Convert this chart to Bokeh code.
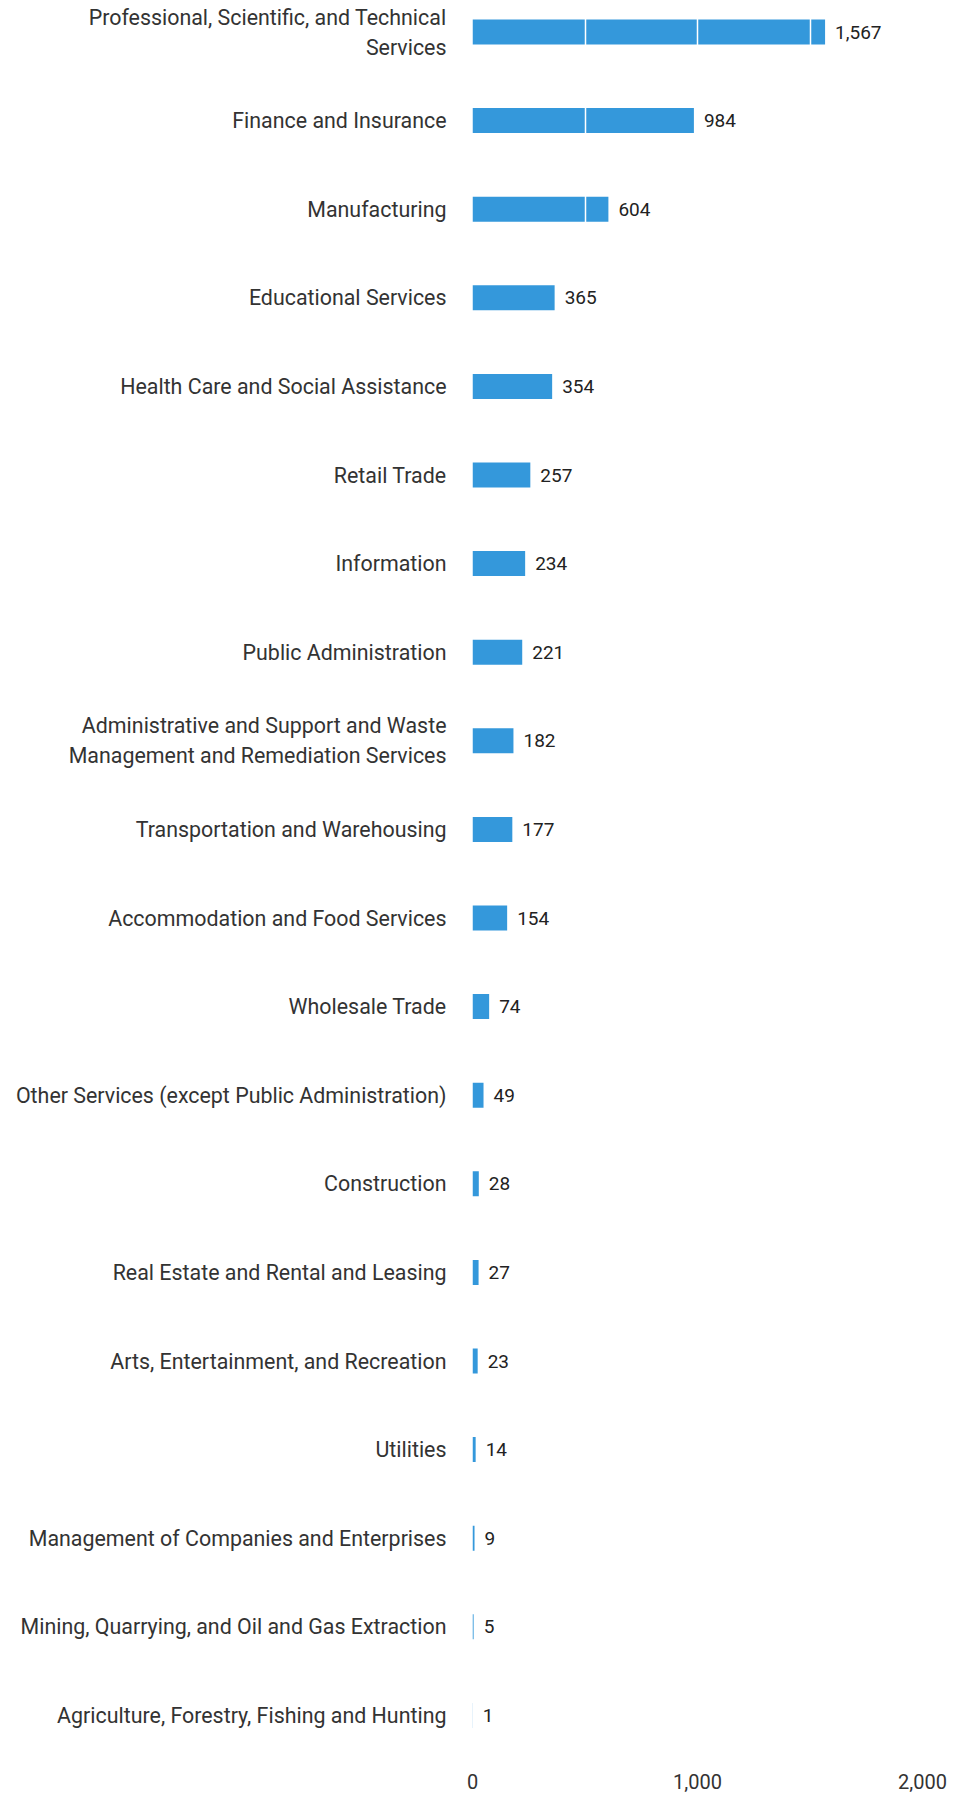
from bokeh.plotting import figure
from bokeh.models import ColumnDataSource, FixedTicker, Range1d
from bokeh.embed import file_html
from bokeh.resources import INLINE
from bokeh.core.properties import value

industries = [
    "Professional, Scientific, and Technical\nServices",
    "Finance and Insurance",
    "Manufacturing",
    "Educational Services",
    "Health Care and Social Assistance",
    "Retail Trade",
    "Information",
    "Public Administration",
    "Administrative and Support and Waste\nManagement and Remediation Services",
    "Transportation and Warehousing",
    "Accommodation and Food Services",
    "Wholesale Trade",
    "Other Services (except Public Administration)",
    "Construction",
    "Real Estate and Rental and Leasing",
    "Arts, Entertainment, and Recreation",
    "Utilities",
    "Management of Companies and Enterprises",
    "Mining, Quarrying, and Oil and Gas Extraction",
    "Agriculture, Forestry, Fishing and Hunting",
]
counts = [1567, 984, 604, 365, 354, 257, 234, 221, 182, 177, 154, 74, 49, 28, 27, 23, 14, 9, 5, 1]
x_ticks = [0, 1000, 2000]
x_tick_labels = ["0", "1,000", "2,000"]
grid_ticks = [500, 1000, 1500, 2000]

n = len(industries)
ypos = [n - i for i in range(n)]
labels = [f"{v:,}" for v in counts]
src = ColumnDataSource(dict(name=industries, count=counts, y=ypos, label=labels))

W, H = 955, 1799
LEFT, RIGHT, TOP, BOTTOM = 472, 10, 8, 55
PX_PER_UNIT_X = 0.225
ROW = 88.6
frame_w = W - LEFT - RIGHT
frame_h = H - TOP - BOTTOM
x_end = frame_w / PX_PER_UNIT_X
y_top = n + 23.5 / ROW
y_bot = y_top - frame_h / ROW

p = figure(width=W, height=H, output_backend="svg", toolbar_location=None,
           x_range=Range1d(0, x_end), y_range=Range1d(y_bot, y_top),
           min_border_left=LEFT, min_border_right=RIGHT,
           min_border_top=TOP, min_border_bottom=BOTTOM)
p.outline_line_color = None
p.background_fill_color = "white"
p.border_fill_color = "white"

p.hbar(y="y", right="count", left=0, height=25 / ROW, source=src,
       fill_color="#3498db", line_color=None)
txt = p.text(x="count", y="y", text="label", source=src, x_offset=10,
             text_align="left", text_baseline="middle",
             text_font=value("Roboto"), text_font_size="19px", text_color="#222222")
txt.level = "annotation"

p.ygrid.visible = False
p.xgrid.ticker = FixedTicker(ticks=grid_ticks)
p.xgrid.grid_line_color = "white"
p.xgrid.grid_line_width = 1.5
p.xgrid.level = "guide"

ya = p.yaxis[0]
ya.ticker = FixedTicker(ticks=ypos)
ya.major_label_overrides = {y: name for y, name in zip(ypos, industries)}
ya.axis_line_color = None
ya.major_tick_line_color = None
ya.minor_tick_line_color = None
ya.major_tick_out = 0
ya.major_tick_in = 0
ya.major_label_standoff = 26
ya.major_label_text_font = "Roboto"
ya.major_label_text_font_size = "21.4px"
ya.major_label_text_color = "#333333"

xa = p.xaxis[0]
xa.ticker = FixedTicker(ticks=x_ticks)
xa.major_label_overrides = {t: s for t, s in zip(x_ticks, x_tick_labels)}
xa.axis_line_color = None
xa.major_tick_line_color = None
xa.minor_tick_line_color = None
xa.major_tick_out = 0
xa.major_tick_in = 0
xa.major_label_standoff = 29
xa.major_label_text_font = "Roboto"
xa.major_label_text_font_size = "20px"
xa.major_label_text_color = "#333333"

open("out.html", "w").write(file_html(p, INLINE))
